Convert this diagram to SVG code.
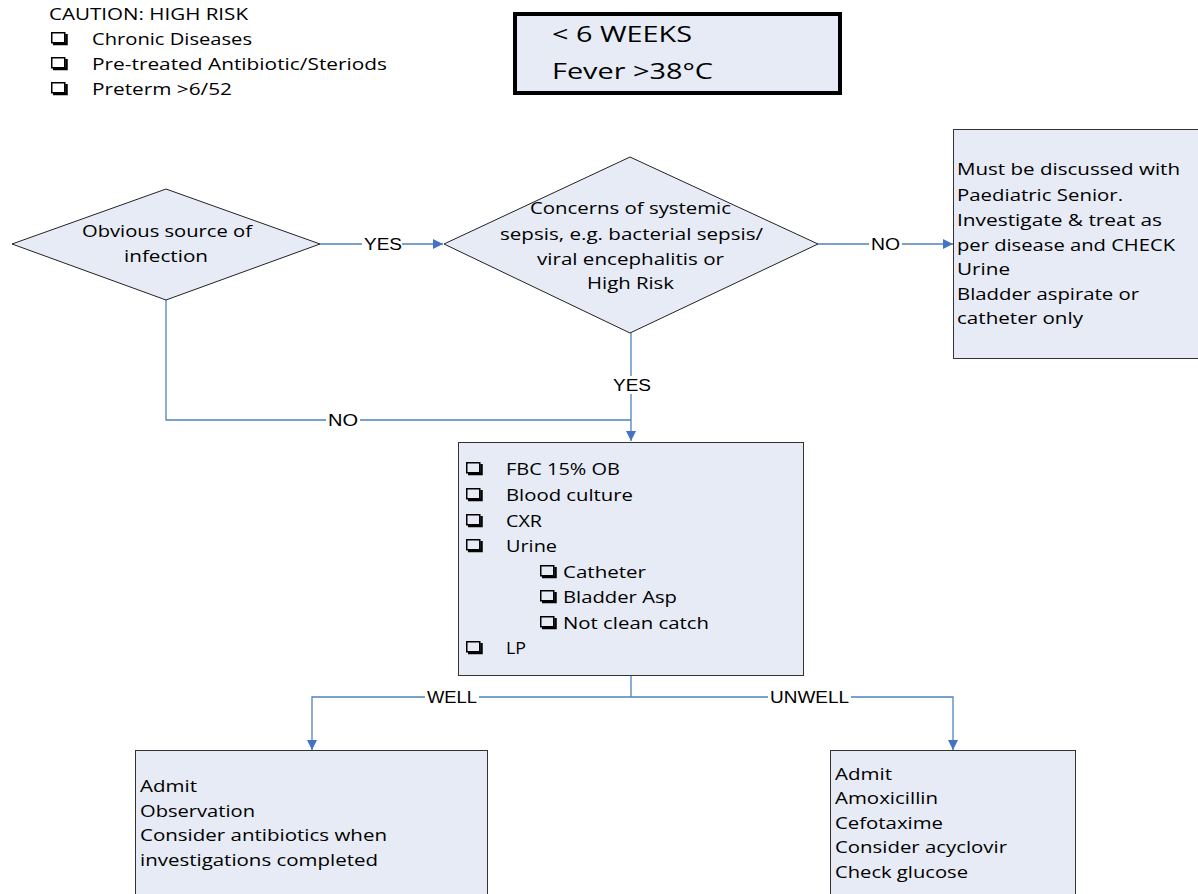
<svg xmlns="http://www.w3.org/2000/svg" width="1198" height="894" viewBox="0 0 1198 894">
<style>
.t{font-family:"Open Sans","Liberation Sans",sans-serif;font-size:17px;fill:#000}
.big{font-size:22px}
.lbl{font-family:"Liberation Sans",Arial,sans-serif;font-size:16px;fill:#000}
.box{fill:#E6EBF5;stroke:#333;stroke-width:1}
.dia{fill:#E6EBF5;stroke:#222;stroke-width:1}
.con{fill:none;stroke:#4F81BD;stroke-width:1.3}
.bg{fill:#fff}
</style>
<defs>
<marker id="ah" viewBox="0 0 10 10" refX="10" refY="5" markerWidth="10" markerHeight="10" markerUnits="userSpaceOnUse" orient="auto">
<path d="M0,0 L10,5 L0,10 Z" fill="#4472C4"/>
</marker>
<symbol id="cb" viewBox="0 0 17 13" width="17" height="13" overflow="visible">
<rect x="0.75" y="0.75" width="13" height="10" fill="none" stroke="#000" stroke-width="1.5"/>
<path d="M2,12 H15.5 V2" fill="none" stroke="#000" stroke-width="2.5"/>
</symbol>
</defs>

<g id="caution">
<text class="t" x="49" y="20" textLength="199" lengthAdjust="spacingAndGlyphs">CAUTION: HIGH RISK</text>
<use href="#cb" x="51" y="32"/>
<text class="t" x="92" y="45" textLength="160" lengthAdjust="spacingAndGlyphs">Chronic Diseases</text>
<use href="#cb" x="51" y="57"/>
<text class="t" x="92" y="70" textLength="295" lengthAdjust="spacingAndGlyphs">Pre-treated Antibiotic/Steriods</text>
<use href="#cb" x="51" y="82"/>
<text class="t" x="92" y="95" textLength="140" lengthAdjust="spacingAndGlyphs">Preterm &gt;6/52</text>
</g>

<g id="start">
<rect x="515" y="14" width="325" height="79" fill="#E6EBF5" stroke="#000" stroke-width="4"/>
<text class="t big" x="552" y="42" textLength="140" lengthAdjust="spacingAndGlyphs">&lt; 6 WEEKS</text>
<text class="t big" x="552" y="79" textLength="161" lengthAdjust="spacingAndGlyphs">Fever &gt;38°C</text>
</g>

<g id="connectors">
<path class="con" d="M320,244 H443" marker-end="url(#ah)"/>
<path class="con" d="M818,244 H953" marker-end="url(#ah)"/>
<path class="con" d="M631,333 V441" marker-end="url(#ah)"/>
<path class="con" d="M166,300 V420 H631"/>
<path class="con" d="M631,676 V697"/>
<path class="con" d="M631,697 H312 V750" marker-end="url(#ah)"/>
<path class="con" d="M631,697 H953 V750" marker-end="url(#ah)"/>
<rect class="bg" x="362" y="235" width="40" height="18"/>
<text class="lbl" x="364" y="250" textLength="38" lengthAdjust="spacingAndGlyphs">YES</text>
<rect class="bg" x="869" y="235" width="33" height="18"/>
<text class="lbl" x="871" y="250" textLength="29" lengthAdjust="spacingAndGlyphs">NO</text>
<rect class="bg" x="611" y="376" width="42" height="18"/>
<text class="lbl" x="613" y="391" textLength="38" lengthAdjust="spacingAndGlyphs">YES</text>
<rect class="bg" x="326" y="411" width="34" height="18"/>
<text class="lbl" x="328" y="426" textLength="30" lengthAdjust="spacingAndGlyphs">NO</text>
<rect class="bg" x="425" y="688" width="54" height="18"/>
<text class="lbl" x="427" y="703" textLength="50" lengthAdjust="spacingAndGlyphs">WELL</text>
<rect class="bg" x="768" y="688" width="83" height="18"/>
<text class="lbl" x="770" y="703" textLength="79" lengthAdjust="spacingAndGlyphs">UNWELL</text>
</g>

<g id="obvious">
<polygon class="dia" points="12,244 166,189 320,244 166,300"/>
<text class="t" x="82" y="237" textLength="170" lengthAdjust="spacingAndGlyphs">Obvious source of</text>
<text class="t" x="124" y="262" textLength="84" lengthAdjust="spacingAndGlyphs">infection</text>
</g>

<g id="concerns">
<polygon class="dia" points="444,244 630,157 818,244 630,333"/>
<text class="t" x="530" y="214" textLength="201" lengthAdjust="spacingAndGlyphs">Concerns of systemic</text>
<text class="t" x="500" y="240" textLength="263" lengthAdjust="spacingAndGlyphs">sepsis, e.g. bacterial sepsis/</text>
<text class="t" x="537" y="265" textLength="187" lengthAdjust="spacingAndGlyphs">viral encephalitis or</text>
<text class="t" x="587" y="289" textLength="87" lengthAdjust="spacingAndGlyphs">High Risk</text>
</g>

<g id="discuss">
<rect class="box" x="953.5" y="129.5" width="260" height="229"/>
<text class="t" x="957" y="175" textLength="223" lengthAdjust="spacingAndGlyphs">Must be discussed with</text>
<text class="t" x="957" y="201" textLength="166" lengthAdjust="spacingAndGlyphs">Paediatric Senior.</text>
<text class="t" x="957" y="226" textLength="205" lengthAdjust="spacingAndGlyphs">Investigate &amp; treat as</text>
<text class="t" x="957" y="251" textLength="218" lengthAdjust="spacingAndGlyphs">per disease and CHECK</text>
<text class="t" x="957" y="275" textLength="53" lengthAdjust="spacingAndGlyphs">Urine</text>
<text class="t" x="957" y="300" textLength="182" lengthAdjust="spacingAndGlyphs">Bladder aspirate or</text>
<text class="t" x="957" y="324" textLength="126" lengthAdjust="spacingAndGlyphs">catheter only</text>
</g>

<g id="investigations">
<rect class="box" x="458.5" y="442.5" width="345" height="233"/>
<use href="#cb" x="466" y="462"/>
<text class="t" x="506" y="475" textLength="114" lengthAdjust="spacingAndGlyphs">FBC 15% OB</text>
<use href="#cb" x="466" y="488"/>
<text class="t" x="506" y="501" textLength="127" lengthAdjust="spacingAndGlyphs">Blood culture</text>
<use href="#cb" x="466" y="514"/>
<text class="t" x="506" y="527" textLength="36" lengthAdjust="spacingAndGlyphs">CXR</text>
<use href="#cb" x="466" y="539"/>
<text class="t" x="506" y="552" textLength="51" lengthAdjust="spacingAndGlyphs">Urine</text>
<use href="#cb" x="540" y="565"/>
<text class="t" x="563" y="578" textLength="83" lengthAdjust="spacingAndGlyphs">Catheter</text>
<use href="#cb" x="540" y="590"/>
<text class="t" x="563" y="603" textLength="114" lengthAdjust="spacingAndGlyphs">Bladder Asp</text>
<use href="#cb" x="540" y="616"/>
<text class="t" x="563" y="629" textLength="146" lengthAdjust="spacingAndGlyphs">Not clean catch</text>
<use href="#cb" x="466" y="641"/>
<text class="t" x="506" y="654" textLength="20" lengthAdjust="spacingAndGlyphs">LP</text>
</g>

<g id="well">
<rect class="box" x="135.5" y="750.5" width="352" height="160"/>
<text class="t" x="140" y="792" textLength="57" lengthAdjust="spacingAndGlyphs">Admit</text>
<text class="t" x="140" y="817" textLength="115" lengthAdjust="spacingAndGlyphs">Observation</text>
<text class="t" x="140" y="841" textLength="247" lengthAdjust="spacingAndGlyphs">Consider antibiotics when</text>
<text class="t" x="140" y="866" textLength="238" lengthAdjust="spacingAndGlyphs">investigations completed</text>
</g>

<g id="unwell">
<rect class="box" x="830.5" y="750.5" width="245" height="160"/>
<text class="t" x="835" y="780" textLength="57" lengthAdjust="spacingAndGlyphs">Admit</text>
<text class="t" x="835" y="804" textLength="103" lengthAdjust="spacingAndGlyphs">Amoxicillin</text>
<text class="t" x="835" y="829" textLength="108" lengthAdjust="spacingAndGlyphs">Cefotaxime</text>
<text class="t" x="835" y="853" textLength="172" lengthAdjust="spacingAndGlyphs">Consider acyclovir</text>
<text class="t" x="835" y="878" textLength="133" lengthAdjust="spacingAndGlyphs">Check glucose</text>
</g>
</svg>
